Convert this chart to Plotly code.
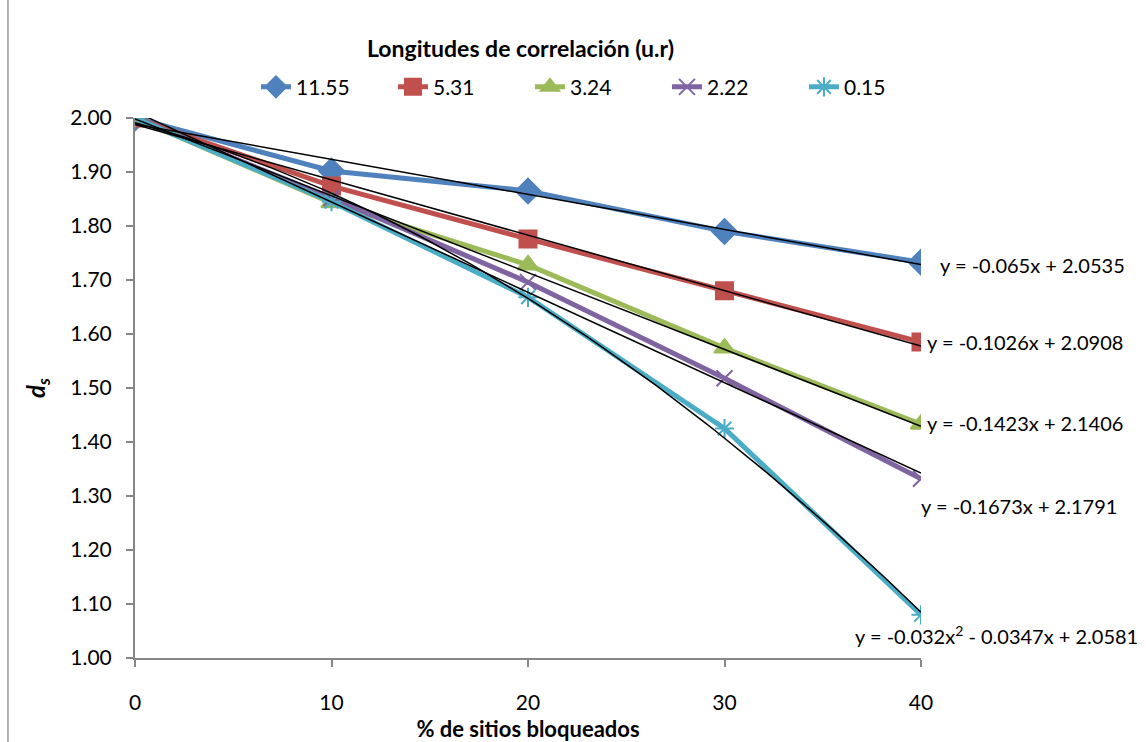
import numpy as np
import plotly.graph_objects as go

# % of blocked sites (category axis)
pct_blocked = [0, 10, 20, 30, 40]

# correlation lengths (u.r) and the measured d_s for each
corr_lengths = ["11.55", "5.31", "3.24", "2.22", "0.15"]
ds_1155 = [2.00, 1.902, 1.865, 1.790, 1.733]
ds_531 = [2.00, 1.874, 1.776, 1.680, 1.585]
ds_324 = [2.00, 1.843, 1.728, 1.574, 1.433]
ds_222 = [2.00, 1.852, 1.696, 1.518, 1.332]
ds_015 = [2.00, 1.845, 1.668, 1.425, 1.080]

# fitted trend coefficients (x = point index 1..5), highest power first
fit_1155 = [-0.065, 2.0535]
fit_531 = [-0.1026, 2.0908]
fit_324 = [-0.1423, 2.1406]
fit_222 = [-0.1673, 2.1791]
fit_015 = [-0.032, -0.0347, 2.0581]

series = [ds_1155, ds_531, ds_324, ds_222, ds_015]
fits = [fit_1155, fit_531, fit_324, fit_222, fit_015]
colors = ["#4F81BD", "#C0504D", "#9BBB59", "#8064A2", "#4BACC6"]
symbols = ["diamond", "square", "triangle-up", "x-thin-open", "asterisk-open"]
msizes = [19, 17, 18, 16, 16]


def fmt(c):
    return f"{c:.4f}".rstrip("0")


def equation(coefs):
    if len(coefs) == 2:
        a, b = coefs
        return f"y = {fmt(a)}x + {fmt(b)}"
    a, b, c = coefs
    sb = "-" if b < 0 else "+"
    return f"y = {fmt(a)}x<sup>2</sup> {sb} {fmt(abs(b))}x + {fmt(c)}"


font = "Lato, 'Open Sans', sans-serif"
fig = go.Figure()

for name, vals, col, sym, ms in zip(corr_lengths, series, colors, symbols, msizes):
    fig.add_trace(go.Scatter(
        x=pct_blocked, y=vals, name=name, mode="lines+markers",
        line=dict(color=col, width=5),
        marker=dict(symbol=sym, size=ms, color=col,
                    line=dict(color=col, width=2)),
    ))

# trendlines (drawn above the series)
for coefs in fits:
    idx = np.linspace(1, 5, 81)
    fig.add_trace(go.Scatter(
        x=(idx - 1) * 10, y=np.polyval(coefs, idx), mode="lines",
        line=dict(color="black", width=1.5), showlegend=False,
        hoverinfo="skip",
    ))

# trend equation labels next to the end of each trendline
label_pos = [  # (xshift, yshift, xanchor)
    (17, 0, "left"),
    (4, 4, "left"),
    (4, 3, "left"),
    (-2, -33, "left"),
    (219, -23, "right"),
]
for coefs, (dx, dy, xa) in zip(fits, label_pos):
    y_end = np.polyval(coefs, 5)
    fig.add_annotation(
        x=40, y=y_end, text=equation(coefs), showarrow=False,
        xanchor=xa, yanchor="middle", xshift=dx, yshift=dy,
        font=dict(family=font, size=20, color="black"),
    )

fig.add_annotation(
    x=0.49, y=1.13, xref="paper", yref="paper",
    xanchor="center", yanchor="middle",
    text="<b>Longitudes de correlación (u.r)</b>", showarrow=False,
    font=dict(family=font, size=23, color="black"),
)

# outer frame line on the left
fig.add_shape(type="line", xref="paper", yref="paper",
              x0=-0.1616, x1=-0.1616, y0=-0.16, y1=1.22,
              line=dict(color="#9a9a9a", width=1.5))

axis_col = "#868686"
fig.update_layout(
    width=1146, height=742,
    margin=dict(l=135, r=225, t=118, b=84, autoexpand=False),
    paper_bgcolor="white", plot_bgcolor="white",
    font=dict(family=font, size=20, color="black"),
    showlegend=True,
    legend=dict(orientation="h", x=0.1539, y=1.057, xanchor="left",
                yanchor="middle", font=dict(family=font, size=21),
                entrywidth=92, entrywidthmode="pixels",
                bgcolor="rgba(0,0,0,0)", traceorder="normal"),
    xaxis=dict(
        range=[0, 40], tickvals=pct_blocked,
        ticktext=[str(v) for v in pct_blocked],
        showline=True, linecolor=axis_col, linewidth=2,
        ticks="outside", ticklen=7, tickcolor=axis_col, tickwidth=1.5,
        showgrid=False, zeroline=False, ticklabelstandoff=18,
        automargin=False,
        tickfont=dict(family=font, size=21),
        title=dict(text="<b>% de sitios bloqueados</b>",
                   font=dict(family=font, size=22), standoff=8),
    ),
    yaxis=dict(
        range=[1.0, 2.0], dtick=0.1, tick0=1.0, tickformat=".2f",
        showline=True, linecolor=axis_col, linewidth=2,
        ticks="outside", ticklen=7, tickcolor=axis_col, tickwidth=1.5,
        showgrid=False, zeroline=False, ticklabelstandoff=10,
        automargin=False,
        tickfont=dict(family=font, size=21),
        title=dict(text="<b><i>d<sub>s</sub></i></b>",
                   font=dict(family=font, size=24), standoff=18),
    ),
)

fig.write_html("out.html")
